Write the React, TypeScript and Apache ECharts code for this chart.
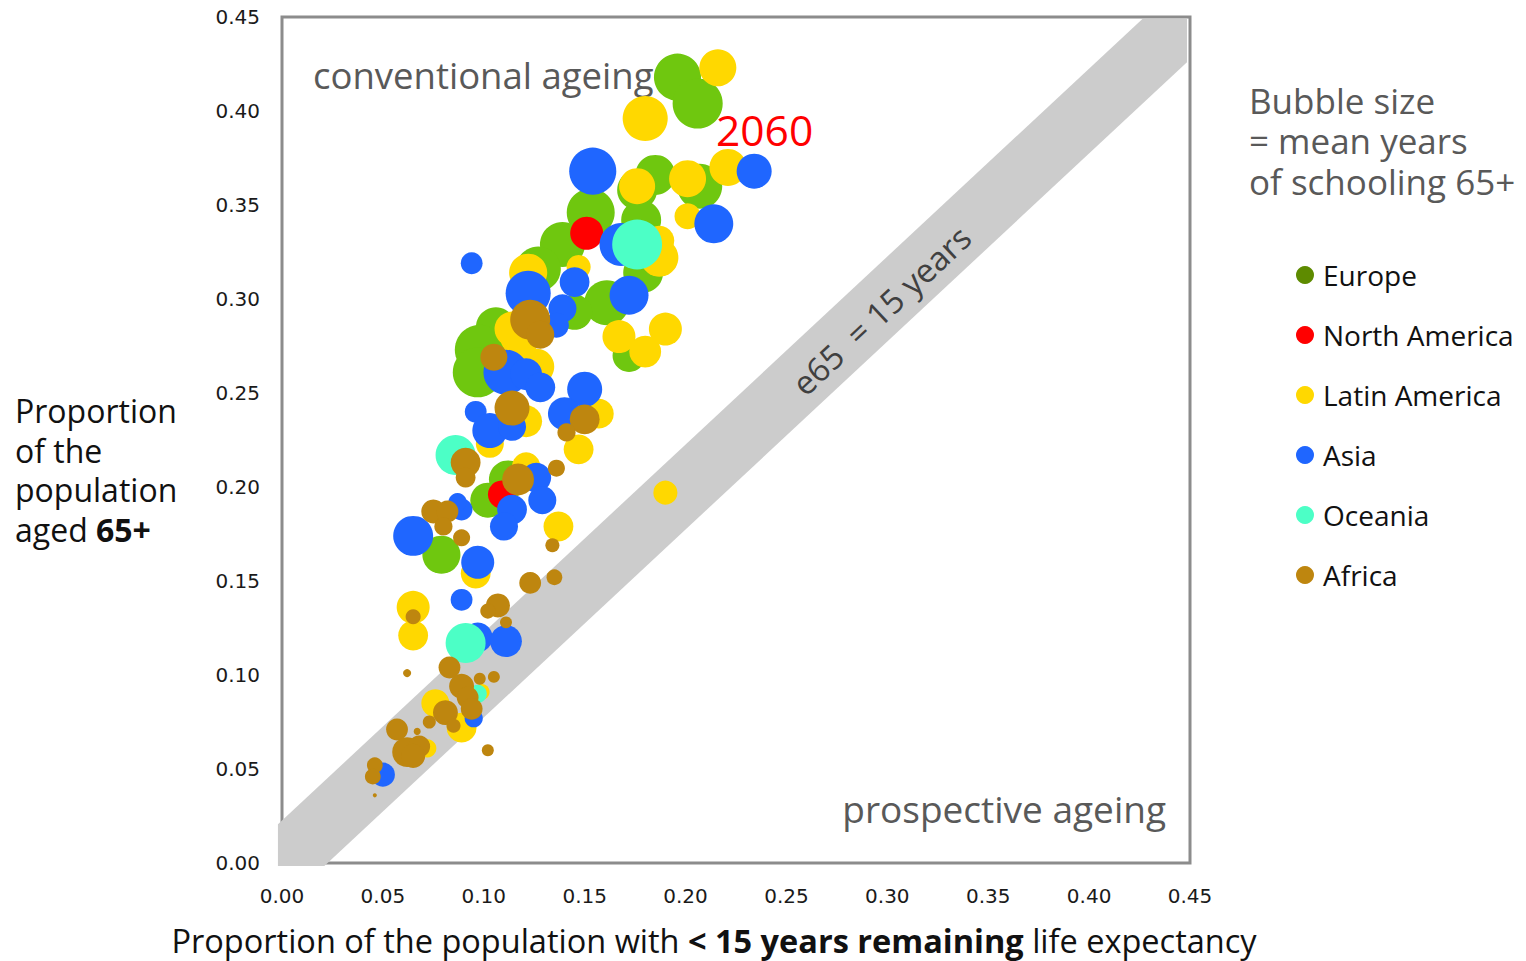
import React, { useEffect, useRef } from "react";
import * as echarts from "echarts";

// Axis ticks (both axes share the same scale)
const TICKS = [0, 0.05, 0.1, 0.15, 0.2, 0.25, 0.3, 0.35, 0.4, 0.45];

// Region names and colours
const REGIONS = ["Europe", "North America", "Latin America", "Asia", "Oceania", "Africa"];
const BUBBLE_COLORS = ["#6FC70F", "#FF0000", "#FFD800", "#1F66FF", "#4CFFC6", "#BE860F"];
const LEGEND_COLORS = ["#5E8B00", "#FF0000", "#FFD800", "#1F66FF", "#4CFFC6", "#BE860F"];

// [share with < 15 years remaining, share aged 65+, mean years of schooling 65+]
const EUROPE = [
  [0.196, 0.418, 10.7], [0.206, 0.404, 12.1], [0.185, 0.366, 7.7], [0.207, 0.36, 9.8],
  [0.176, 0.358, 7.7], [0.153, 0.346, 11.1], [0.178, 0.342, 7.7], [0.139, 0.329, 9.8],
  [0.179, 0.314, 7.7], [0.127, 0.316, 9.8], [0.161, 0.298, 9.8], [0.145, 0.293, 6.0],
  [0.172, 0.27, 5.25], [0.106, 0.285, 7.7], [0.098, 0.273, 12], [0.097, 0.261, 12],
  [0.112, 0.204, 7.0], [0.102, 0.193, 5.9], [0.079, 0.164, 7.0],
];
const NORTH_AMERICA = [
  [0.151, 0.335, 5.25], [0.109, 0.196, 3.8],
];
const LATIN_AMERICA = [
  [0.216, 0.423, 6.6], [0.18, 0.396, 9.8], [0.221, 0.37, 6.6], [0.201, 0.364, 6.6],
  [0.176, 0.36, 6.25], [0.201, 0.344, 3.3], [0.187, 0.322, 7.0], [0.187, 0.331, 4.3],
  [0.147, 0.317, 2.8], [0.122, 0.314, 7.0], [0.114, 0.284, 5.9], [0.167, 0.28, 5.25],
  [0.18, 0.272, 4.9], [0.19, 0.284, 5.25], [0.118, 0.28, 7.7], [0.126, 0.264, 6.25],
  [0.157, 0.239, 4.3], [0.121, 0.235, 4.9], [0.103, 0.223, 3.8], [0.147, 0.22, 4.3],
  [0.121, 0.211, 3.8], [0.137, 0.179, 4.3], [0.19, 0.197, 2.8], [0.096, 0.154, 4.3],
  [0.065, 0.136, 5.25], [0.065, 0.121, 4.3], [0.076, 0.085, 3.8], [0.089, 0.072, 4.3],
  [0.072, 0.061, 1.6], [0.099, 0.091, 1.2],
];
const ASIA = [
  [0.154, 0.368, 10.7], [0.234, 0.368, 5.9], [0.214, 0.34, 7.3], [0.168, 0.329, 8.9],
  [0.094, 0.319, 2.3], [0.145, 0.309, 4.3], [0.122, 0.303, 9.8], [0.172, 0.302, 7.3],
  [0.139, 0.295, 3.8], [0.136, 0.286, 3.0], [0.111, 0.261, 9.8], [0.121, 0.26, 4.9],
  [0.128, 0.253, 4.3], [0.15, 0.252, 5.9], [0.14, 0.239, 5.25], [0.096, 0.24, 2.3],
  [0.103, 0.23, 5.9], [0.114, 0.232, 3.8], [0.126, 0.205, 4.3], [0.129, 0.193, 3.8],
  [0.114, 0.188, 4.3], [0.11, 0.179, 3.8], [0.089, 0.188, 2.3], [0.087, 0.192, 1.6],
  [0.065, 0.174, 7.7], [0.097, 0.16, 5.25], [0.089, 0.14, 2.3], [0.097, 0.12, 4.3],
  [0.111, 0.118, 4.9], [0.095, 0.077, 1.6], [0.05, 0.047, 2.8],
];
const OCEANIA = [
  [0.176, 0.329, 12], [0.086, 0.217, 7.7], [0.091, 0.117, 7.7], [0.097, 0.09, 1.6],
];
const AFRICA = [
  [0.123, 0.289, 7.7], [0.128, 0.281, 3.8], [0.105, 0.269, 3.5], [0.114, 0.242, 5.9],
  [0.15, 0.236, 4.3], [0.141, 0.229, 1.6], [0.091, 0.213, 4.3], [0.091, 0.205, 1.9],
  [0.136, 0.21, 1.4], [0.117, 0.204, 4.9], [0.075, 0.187, 2.8], [0.082, 0.187, 2.3],
  [0.08, 0.179, 1.6], [0.089, 0.173, 1.4], [0.134, 0.169, 0.95], [0.123, 0.149, 2.3],
  [0.135, 0.152, 1.2], [0.065, 0.131, 1.1], [0.107, 0.137, 2.8], [0.102, 0.134, 1.1],
  [0.111, 0.128, 0.69], [0.062, 0.101, 0.31], [0.083, 0.104, 2.3], [0.098, 0.098, 0.69],
  [0.105, 0.099, 0.69], [0.089, 0.094, 3.0], [0.092, 0.088, 2.3], [0.094, 0.082, 2.3],
  [0.081, 0.08, 3.0], [0.073, 0.075, 0.82], [0.085, 0.073, 0.95], [0.057, 0.071, 2.3],
  [0.067, 0.07, 0.24], [0.062, 0.059, 4.3], [0.068, 0.062, 2.3], [0.065, 0.057, 2.8],
  [0.102, 0.06, 0.69], [0.046, 0.052, 1.2], [0.045, 0.046, 1.2], [0.046, 0.036, 0.08],
];
const REGION_DATA = [EUROPE, NORTH_AMERICA, LATIN_AMERICA, ASIA, OCEANIA, AFRICA];

// The e65 = 15 years band around the diagonal y = x, clipped to the frame
const BAND_X = [-0.002, -0.002, 0.021, 0.4485, 0.4485, 0.4264];
const BAND_Y = [0.0206, -0.0016, -0.0016, 0.4259, 0.449, 0.449];
const BAND_LABEL_AT = [0.297, 0.294];

// Lines of the bubble-size note
const SIZE_NOTE = ["Bubble size", "= mean years", "of schooling 65+"];

const SANS = "'Open Sans', 'Noto Sans', sans-serif";

export default function App() {
  const ref = useRef<HTMLDivElement>(null);

  useEffect(() => {
    if (!ref.current) return;
    const chart = echarts.init(ref.current, undefined, { renderer: "svg" });

    const bandSeries = {
      type: "custom",
      silent: true,
      clip: false,
      z: 1,
      data: [[0, 0]],
      encode: { x: 0, y: 1 },
      renderItem: (_params: any, api: any) => {
        const points = BAND_X.map((x, i) => api.coord([x, BAND_Y[i]]));
        const a = api.coord([0, 0]);
        const b = api.coord([0.45, 0.45]);
        const angle = Math.atan2(a[1] - b[1], b[0] - a[0]);
        const c = api.coord(BAND_LABEL_AT);
        return {
          type: "group",
          children: [
            { type: "polygon", shape: { points }, style: { fill: "#CCCCCC" } },
            {
              type: "text",
              x: c[0],
              y: c[1],
              rotation: angle,
              style: {
                text: "e65  = 15 years",
                fill: "#404040",
                fontSize: 33,
                fontFamily: SANS,
                align: "center",
                verticalAlign: "middle",
              },
            },
          ],
        };
      },
    };

    const bubbleSeries = REGIONS.map((name, i) => ({
      type: "scatter",
      name,
      z: 2 + i,
      data: REGION_DATA[i],
      symbolSize: (v: number[]) => 14.4 * Math.sqrt(v[2]),
      itemStyle: { color: BUBBLE_COLORS[i], opacity: 1 },
      emphasis: { disabled: true },
    }));

    const tickLabel = {
      formatter: (v: number) => v.toFixed(2),
      fontFamily: "'DejaVu Sans', sans-serif",
      fontSize: 20,
      color: "#1a1a1a",
    };

    const legendItems: any[] = [];
    REGIONS.forEach((name, i) => {
      const y = 275 + i * 60;
      legendItems.push({
        type: "circle",
        shape: { cx: 1305, cy: y, r: 9 },
        style: { fill: LEGEND_COLORS[i] },
      });
      legendItems.push({
        type: "text",
        x: 1323,
        y,
        style: {
          text: name,
          fill: "#111111",
          fontSize: 28,
          fontFamily: SANS,
          verticalAlign: "middle",
        },
      });
    });

    const noteItems = SIZE_NOTE.map((line, i) => ({
      type: "text",
      x: 1249,
      y: 100 + i * 40.5,
      style: {
        text: line,
        fill: "#595959",
        fontSize: 35,
        fontFamily: SANS,
        verticalAlign: "middle",
      },
    }));

    chart.setOption({
      animation: false,
      backgroundColor: "#ffffff",
      grid: {
        left: 282,
        top: 17,
        width: 908,
        height: 846,
        show: true,
        borderColor: "#8C8C8C",
        borderWidth: 3,
        backgroundColor: "transparent",
      },
      xAxis: {
        type: "value",
        min: TICKS[0],
        max: TICKS[TICKS.length - 1],
        interval: 0.05,
        axisLine: { show: false },
        axisTick: { show: false },
        splitLine: { show: false },
        axisLabel: { ...tickLabel, margin: 23 },
      },
      yAxis: {
        type: "value",
        min: TICKS[0],
        max: TICKS[TICKS.length - 1],
        interval: 0.05,
        axisLine: { show: false },
        axisTick: { show: false },
        splitLine: { show: false },
        axisLabel: { ...tickLabel, margin: 22 },
      },
      series: [bandSeries, ...bubbleSeries],
      graphic: [
        {
          type: "text",
          x: 313,
          y: 75,
          z: 0,
          style: {
            text: "conventional ageing",
            fill: "#595959",
            fontSize: 36.5,
            fontFamily: SANS,
            verticalAlign: "middle",
          },
        },
        {
          type: "text",
          x: 1166,
          y: 808,
          style: {
            text: "prospective ageing",
            fill: "#595959",
            fontSize: 37,
            fontFamily: SANS,
            align: "right",
            verticalAlign: "middle",
          },
        },
        {
          type: "text",
          x: 716,
          y: 129,
          z: 100,
          style: {
            text: "2060",
            fill: "#FF0000",
            fontSize: 42.5,
            fontFamily: SANS,
            verticalAlign: "middle",
          },
        },
        ...noteItems,
        {
          type: "text",
          x: 15,
          y: 391,
          style: {
            rich: {
              n: { fontSize: 32, fontFamily: SANS, fill: "#111111", lineHeight: 39.5 },
              b: { fontSize: 32, fontFamily: SANS, fill: "#111111", fontWeight: "bold", lineHeight: 39.5 },
            },
            text: "{n|Proportion}\n{n|of the}\n{n|population}\n{n|aged }{b|65+}",
            verticalAlign: "top",
          },
        },
        {
          type: "text",
          x: 714,
          y: 940,
          style: {
            rich: {
              n: { fontSize: 32.5, fontFamily: SANS, fill: "#111111" },
              b: { fontSize: 32.5, fontFamily: SANS, fill: "#111111", fontWeight: "bold" },
            },
            text: "{n|Proportion of the population with }{b|< 15 years remaining}{n| life expectancy}",
            align: "center",
            verticalAlign: "middle",
          },
        },
        ...legendItems,
      ],
    });

    return () => chart.dispose();
  }, []);

  return (
    <div
      ref={ref}
      style={{ position: "fixed", left: 0, top: 0, width: 1526, height: 961, background: "#fff" }}
    />
  );
}
